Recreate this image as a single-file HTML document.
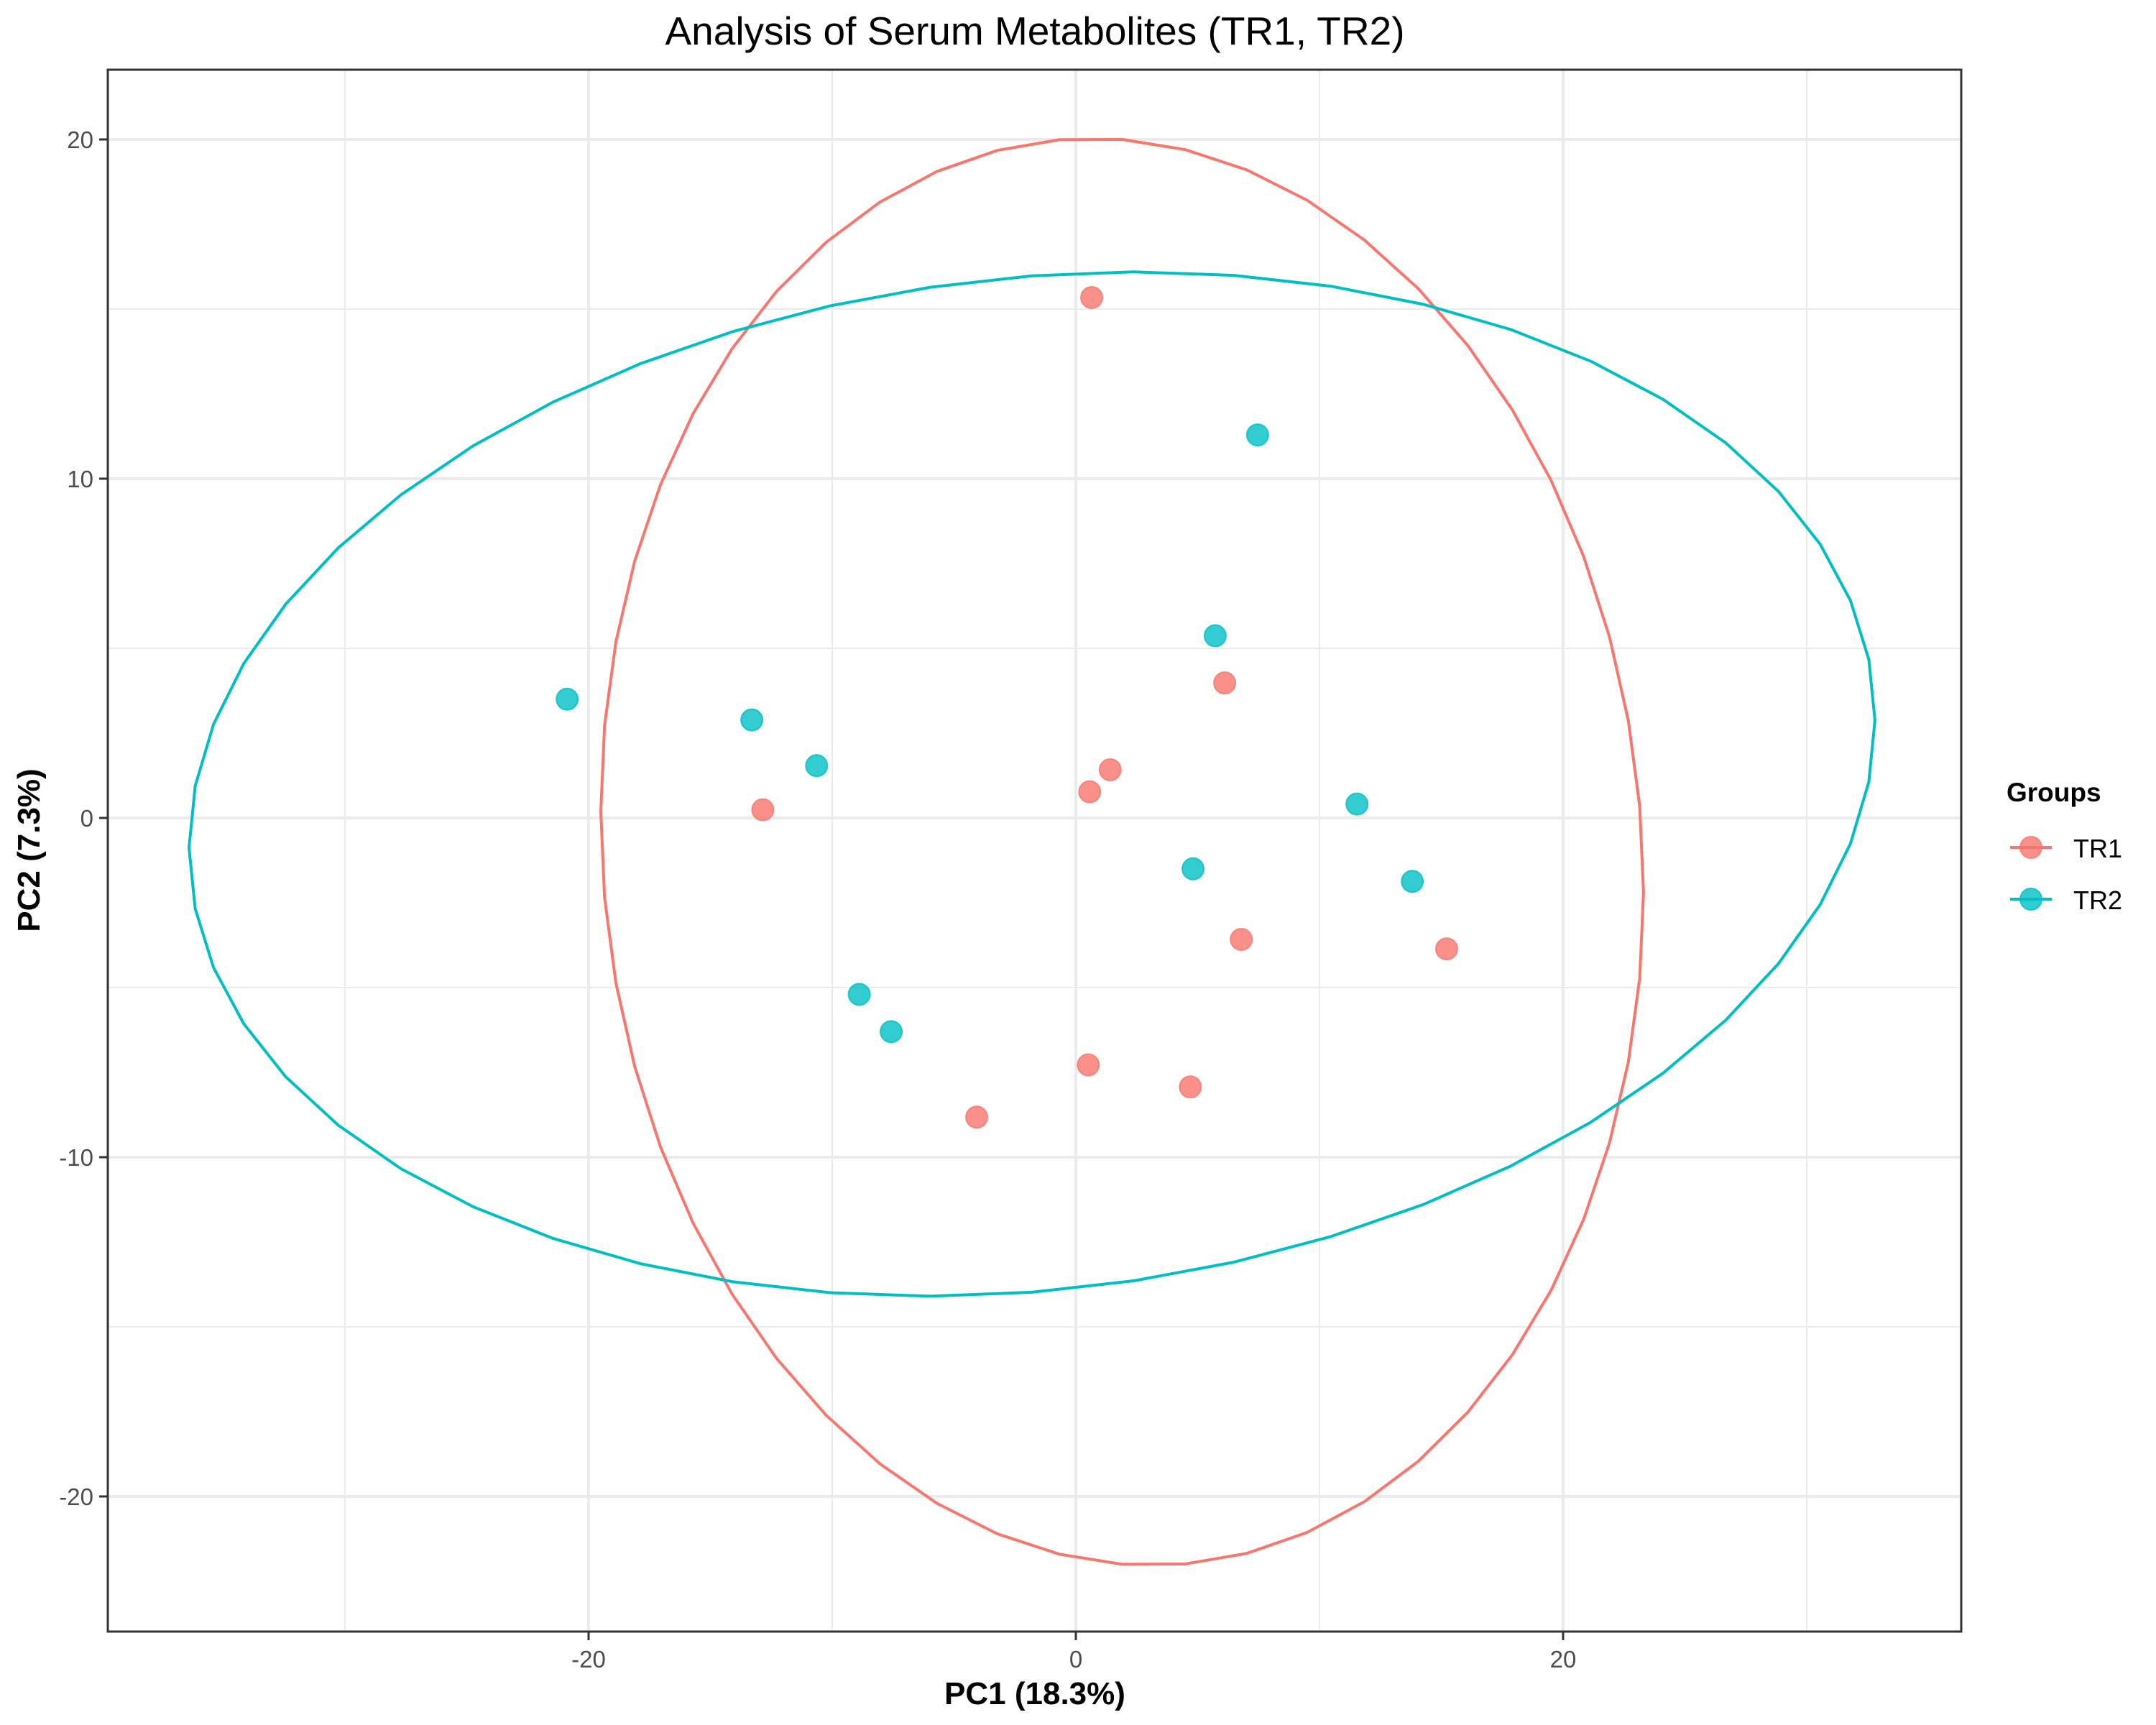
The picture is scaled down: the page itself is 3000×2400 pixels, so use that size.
<!DOCTYPE html>
<html><head><meta charset="utf-8"><style>
html,body{margin:0;padding:0;background:#fff;}
svg{display:block;font-family:"Liberation Sans",Arial,sans-serif;}
</style></head><body>
<svg id="chart" width="3000" height="2400" viewBox="0 0 3000 2400" xmlns="http://www.w3.org/2000/svg">
<rect x="0" y="0" width="3000" height="2400" fill="#fff"/>
<g id="grid"></g>
<g id="ellipses"></g>
<g id="points"></g>
<rect x="150" y="97" width="2579" height="2173" fill="none" stroke="#333" stroke-width="3"/>
<g id="axes"></g>
<text x="1440" y="62" text-anchor="middle" font-size="55" fill="#000">Analysis of Serum Metabolites (TR1, TR2)</text>
<text x="1440" y="2371" text-anchor="middle" font-size="44" font-weight="bold" fill="#000">PC1 (18.3%)</text>
<text transform="translate(55,1183) rotate(-90)" text-anchor="middle" font-size="44" font-weight="bold" fill="#000">PC2 (7.3%)</text>
<g>
<text x="2792" y="1115" font-size="37" font-weight="bold" fill="#000">Groups</text>
<g>
<line x1="2797" y1="1179" x2="2855" y2="1179" stroke="#F8766D" stroke-width="4"/>
<circle cx="2826" cy="1179" r="15" fill="#F8766D" fill-opacity="0.8" stroke="#F8766D" stroke-opacity="0.8" stroke-width="2"/>
<text x="2885" y="1193" font-size="36" fill="#000">TR1</text>
</g>
<g>
<line x1="2797" y1="1251" x2="2855" y2="1251" stroke="#00BFC4" stroke-width="4"/>
<circle cx="2826" cy="1251" r="15" fill="#00BFC4" fill-opacity="0.8" stroke="#00BFC4" stroke-opacity="0.8" stroke-width="2"/>
<text x="2885" y="1265" font-size="36" fill="#000">TR2</text>
</g>
</g>
</svg>
<script>
const groups = ['TR1','TR2'];
const colors = ['#F8766D','#00BFC4'];
const tr1X = [0.65, 6.11, 1.41, 0.57, -12.85, 6.79, 15.22, 0.51, 4.70, -4.07];
const tr1Y = [15.34, 3.98, 1.42, 0.77, 0.24, -3.58, -3.86, -7.28, -7.93, -8.82];
const tr2X = [7.46, 5.72, -20.88, -13.30, -10.64, 11.54, 4.81, 13.81, -8.89, -7.58];
const tr2Y = [11.29, 5.37, 3.50, 2.89, 1.54, 0.41, -1.50, -1.87, -5.20, -6.30];
// ellipse params: center x, center y, A, B, C, D  (x=cx+A cos t+B sin t, y=cy+C cos t+D sin t)
const ellipseTR1 = [1.9, -1.0, 21.4, 0, -1.2, 21.0];
const ellipseTR2 = [-1.8, 1.0, 34.6, 0, 1.88, 14.98];
const xTicks = [-20, 0, 20];
const xTickLabels = ['-20', '0', '20'];
const yTicks = [-20, -10, 0, 10, 20];
const yTickLabels = ['-20', '-10', '0', '10', '20'];
const xMinor = [-30, -10, 10, 30];
const yMinor = [-15, -5, 5, 15];

const NS = 'http://www.w3.org/2000/svg';
const L = 150, R = 2729, T = 97, B = 2270;
function sx(v){ return 1497 + v * 33.9; }
function sy(v){ return 1138 - v * 47.2; }
function mk(tag, attrs, parent){
  const e = document.createElementNS(NS, tag);
  for (const k in attrs) e.setAttribute(k, attrs[k]);
  parent.appendChild(e); return e;
}
const grid = document.getElementById('grid');
xMinor.forEach(v => {
  const l = mk('line', {x1:sx(v), x2:sx(v), y1:T, y2:B, stroke:'#EBEBEB', 'stroke-width':2}, grid);
  
  
});
yMinor.forEach(v => {
  const l = mk('line', {x1:L, x2:R, y1:sy(v), y2:sy(v), stroke:'#EBEBEB', 'stroke-width':2}, grid);
  
  
});
xTicks.forEach(v => {
  const l = mk('line', {x1:sx(v), x2:sx(v), y1:T, y2:B, stroke:'#EBEBEB', 'stroke-width':4}, grid);
  
  
});
yTicks.forEach(v => {
  const l = mk('line', {x1:L, x2:R, y1:sy(v), y2:sy(v), stroke:'#EBEBEB', 'stroke-width':4}, grid);
  
  
});
const axes = document.getElementById('axes');
xTicks.forEach((v,i) => {
  mk('line', {x1:sx(v), x2:sx(v), y1:B, y2:B+12, stroke:'#333', 'stroke-width':3}, axes);
  const t = mk('text', {x:sx(v), y:B+50, 'text-anchor':'middle', 'font-size':33, fill:'#4D4D4D'}, axes);
  t.textContent = xTickLabels[i];
  
  
});
yTicks.forEach((v,i) => {
  mk('line', {x1:L-12, x2:L, y1:sy(v), y2:sy(v), stroke:'#333', 'stroke-width':3}, axes);
  const t = mk('text', {x:L-20, y:sy(v)+12, 'text-anchor':'end', 'font-size':33, fill:'#4D4D4D'}, axes);
  t.textContent = yTickLabels[i];
  
  
});
const eg = document.getElementById('ellipses');
[ellipseTR1, ellipseTR2].forEach((p, gi) => {
  const pts = [];
  const n = 52;
  for (let i = 0; i <= n; i++) {
    const t = Math.PI/2 + 2*Math.PI*i/n;
    const x = p[0] + p[2]*Math.cos(t) + p[3]*Math.sin(t);
    const y = p[1] + p[4]*Math.cos(t) + p[5]*Math.sin(t);
    pts.push(sx(x).toFixed(1) + ',' + sy(y).toFixed(1));
  }
  const pl = mk('polyline', {points: pts.join(' '), fill:'none', stroke:colors[gi], 'stroke-width':4, 'stroke-linejoin':'round'}, eg);
  
  
});
const pg = document.getElementById('points');
[[tr1X,tr1Y],[tr2X,tr2Y]].forEach((s, gi) => {
  s[0].forEach((xv, i) => {
    const c = mk('circle', {cx:sx(xv), cy:sy(s[1][i]), r:15, fill:colors[gi], 'fill-opacity':0.8, stroke:colors[gi], 'stroke-opacity':0.8, 'stroke-width':2}, pg);
    
    
  });
});
</script>
</body></html>
